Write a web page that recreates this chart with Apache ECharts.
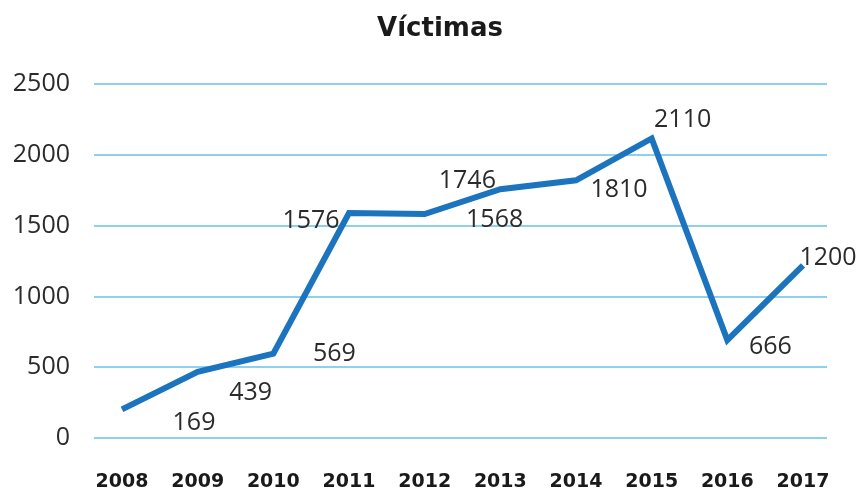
<!DOCTYPE html>
<html>
<head>
<meta charset="utf-8">
<script src="https://cdn.jsdelivr.net/npm/echarts@6/dist/echarts.min.js"></script>
<style>
  html, body { margin: 0; padding: 0; background: #ffffff; }
  #chart { width: 857px; height: 492px; }
</style>
</head>
<body>
<div id="chart"></div>
<script>
// Victims per year
const years = ['2008', '2009', '2010', '2011', '2012', '2013', '2014', '2015', '2016', '2017'];
const victims = [169, 439, 569, 1576, 1568, 1746, 1810, 2110, 666, 1200];
const yTicks = [0, 500, 1000, 1500, 2000, 2500];

// per-point label nudges (px) so the numbers sit beside the line
const labelNudge = [[72, 13], [53, 21], [61, 0], [-38, 8], [70, 6], [-33, -8], [43, 10], [31, -19], [43, 7], [25, -8]];

const chart = echarts.init(document.getElementById('chart'), null, { renderer: 'canvas' });

const numFont = { fontFamily: 'Open Sans', fontSize: 25, color: '#2b2b2b' };

chart.setOption({
  animation: false,
  backgroundColor: '#ffffff',
  title: {
    text: 'Víctimas',
    left: 435,
    top: 11,
    textAlign: 'center',
    textStyle: { fontFamily: 'DejaVu Sans', fontWeight: 'bold', fontSize: 26, color: '#1a1a1a' }
  },
  grid: [
    { left: 122, right: 54, top: 84, bottom: 54 },   // data
    { left: 94, right: 30, top: 84, bottom: 54 }     // background rules
  ],
  xAxis: [
    {
      type: 'category', gridIndex: 0, data: years, boundaryGap: false,
      axisLine: { show: false }, axisTick: { show: false },
      axisLabel: { margin: 40, fontFamily: 'DejaVu Sans', fontWeight: 'bold', fontSize: 19, color: '#1a1a1a' },
      splitLine: { show: false }
    },
    { type: 'value', gridIndex: 1, show: false, min: 0, max: 1 }
  ],
  yAxis: [
    {
      type: 'value', gridIndex: 0, min: yTicks[0], max: yTicks[yTicks.length - 1], interval: 500,
      show: false
    },
    {
      type: 'value', gridIndex: 1, min: yTicks[0], max: yTicks[yTicks.length - 1], interval: 500,
      axisLine: { show: false }, axisTick: { show: false },
      axisLabel: Object.assign({ margin: 24, formatter: v => String(v) }, numFont),
      splitLine: { show: true, lineStyle: { color: '#8fd0ee', width: 2 } }
    }
  ],
  series: [
    {
      type: 'line',
      xAxisIndex: 0, yAxisIndex: 0,
      data: victims.map((v, i) => ({
        value: v,
        label: { offset: labelNudge[i] }
      })),
      symbol: 'circle',
      symbolSize: 0,
      showSymbol: true,
      lineStyle: { color: '#1b74bd', width: 6, join: 'miter' },
      itemStyle: { color: '#1b74bd' },
      label: Object.assign({
        show: true,
        position: 'inside',
        align: 'center',
        verticalAlign: 'middle'
      }, numFont),
      z: 3
    }
  ]
});
</script>
</body>
</html>
